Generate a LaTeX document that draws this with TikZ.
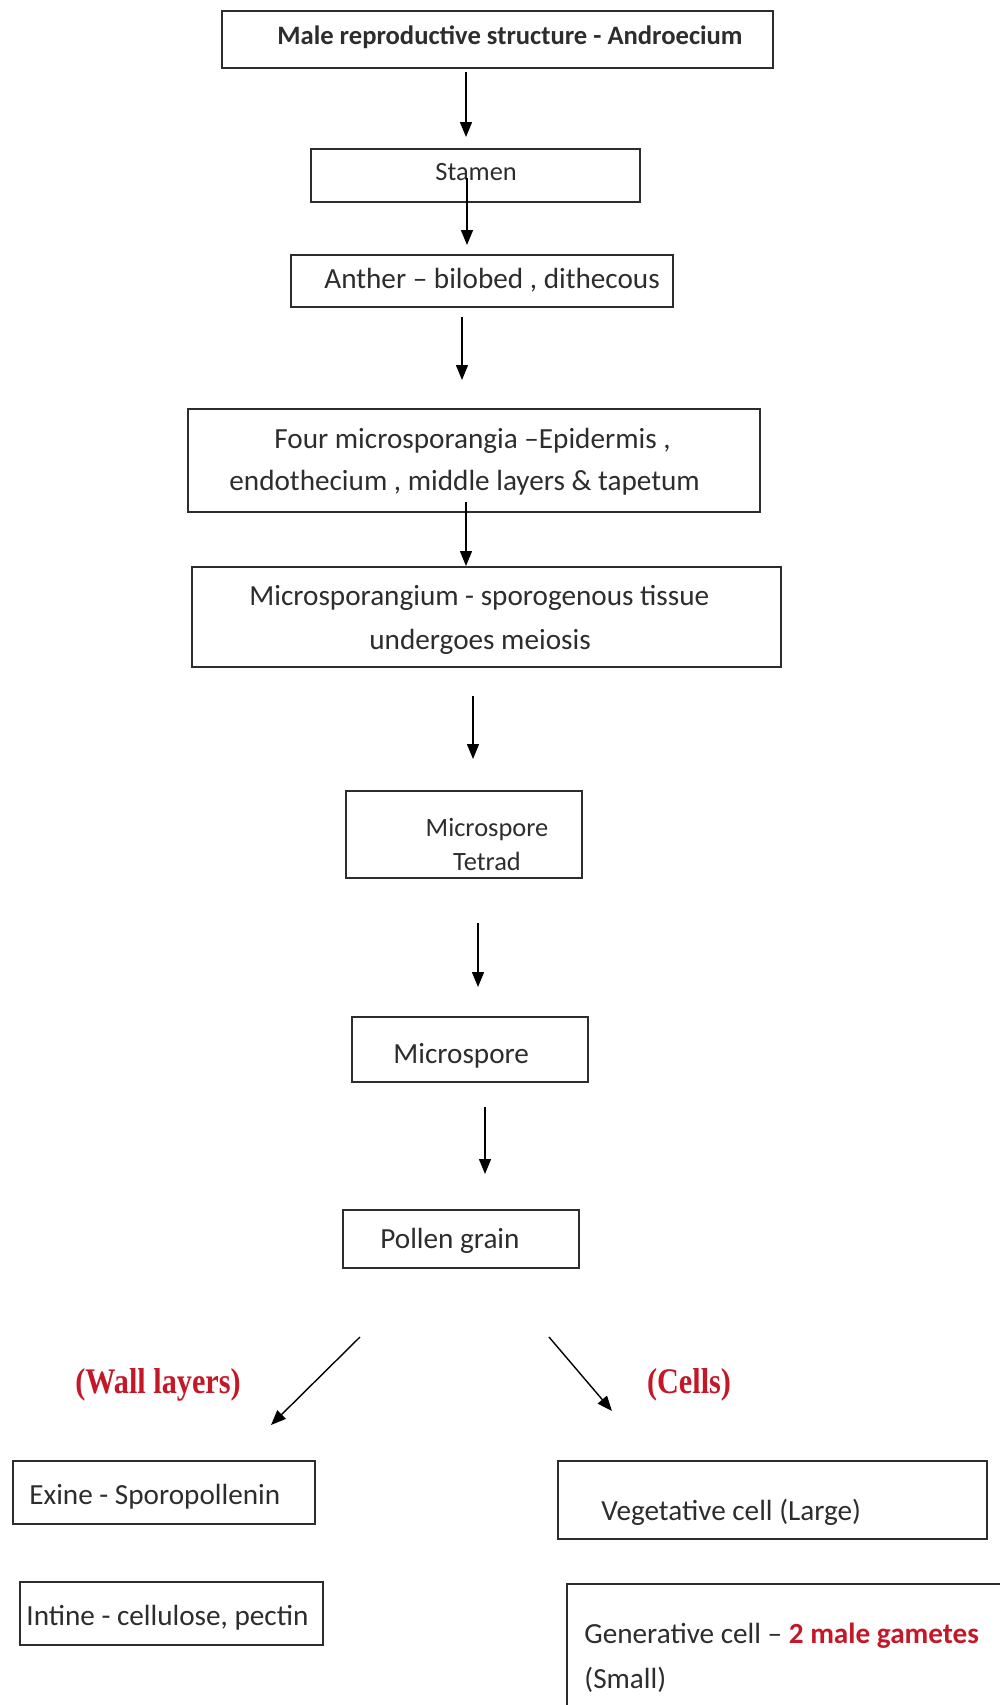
\documentclass[tikz,border=0pt]{standalone}
\usepackage{fontspec}
\setmainfont{Carlito}
\newfontfamily\serifbold{Liberation Serif}
\usetikzlibrary{arrows.meta}
\definecolor{inkgray}{RGB}{45,45,45}
\definecolor{darkred}{RGB}{196,24,40}
\tikzset{
  box/.style={draw=inkgray, line width=1pt, inner sep=0pt, anchor=north west},
  txt/.style={inner sep=0pt, anchor=west, text=inkgray, font=\fontsize{14.6}{17}\selectfont},
  smalltxt/.style={txt, font=\fontsize{13.2}{16}\selectfont},
  headtxt/.style={txt, font=\fontsize{13.3}{16}\selectfont\bfseries},
  tag/.style={inner sep=0pt, text=darkred, font=\serifbold\fontsize{18}{20}\selectfont\bfseries},
  arr/.style={draw=black, line width=0.7pt, -{Triangle[length=7.5pt,width=6pt]}}
}
\begin{document}
\begin{tikzpicture}[x=0.5pt, y=-0.5pt]
\useasboundingbox[fill=white] (0,0) rectangle (1000,1705);

% main chain of boxes (top-left corner, width, height)
\node[box, minimum width=551pt/2, minimum height=57pt/2] (andro) at (221,10) {};
\node[headtxt] at (277,37) {Male reproductive structure - Androecium};

\node[box, minimum width=329pt/2, minimum height=53pt/2] (stamen) at (310,148) {};
\node[smalltxt] at (435,172) {Stamen};

\node[box, minimum width=382pt/2, minimum height=52pt/2] (anther) at (290,254) {};
\node[txt] at (324,280) {Anther – bilobed , dithecous};

\node[box, minimum width=572pt/2, minimum height=103pt/2] (four) at (187,408) {};
\node[txt] at (274,441) {Four microsporangia –Epidermis ,};
\node[txt] at (229,483) {endothecium , middle layers \& tapetum};

\node[box, minimum width=589pt/2, minimum height=100pt/2] (sporang) at (191,566) {};
\node[txt] at (249,598) {Microsporangium - sporogenous tissue};
\node[txt] at (369,642) {undergoes meiosis};

\node[box, minimum width=236pt/2, minimum height=87pt/2] (tetrad) at (345,790) {};
\node[smalltxt, align=center, anchor=center] at (487,844) {Microspore\\[1pt]Tetrad};

\node[box, minimum width=236pt/2, minimum height=65pt/2] (spore) at (351,1016) {};
\node[txt] at (393,1056) {Microspore};

\node[box, minimum width=236pt/2, minimum height=58pt/2] (pollen) at (342,1209) {};
\node[txt] at (380,1241) {Pollen grain};

% wall layers
\node[box, minimum width=302pt/2, minimum height=63pt/2] (exine) at (12,1460) {};
\node[txt] at (29,1497) {Exine - Sporopollenin};
\node[box, minimum width=303pt/2, minimum height=63pt/2] (intine) at (19,1581) {};
\node[txt] at (26,1618) {Intine - cellulose, pectin};

% cells
\node[box, minimum width=429pt/2, minimum height=78pt/2] (veg) at (557,1460) {};
\node[txt] at (601,1512) {Vegetative cell (Large)};
\begin{scope}
  \clip (0,0) rectangle (1000,1705);
  \node[box, minimum width=460pt/2, minimum height=160pt/2] (gen) at (566,1583) {};
\end{scope}
\node[txt] at (584,1636) {Generative cell – \textcolor{darkred}{\bfseries 2 male gametes}};
\node[txt] at (584,1680) {(Small)};

% branch labels
\node[tag] at (158,1385) {\scalebox{0.84}[1]{(Wall layers)}};
\node[tag] at (689,1385) {\scalebox{0.84}[1]{(Cells)}};

% connector end points
\coordinate (a1s) at (466,72);   \coordinate (a1e) at (466,137);
\coordinate (a2s) at (467,178);  \coordinate (a2e) at (467,245);
\coordinate (a3s) at (462,317);  \coordinate (a3e) at (462,380);
\coordinate (a4s) at (466,502);  \coordinate (a4e) at (466,566);
\coordinate (a5s) at (473,696);  \coordinate (a5e) at (473,759);
\coordinate (a6s) at (478,923);  \coordinate (a6e) at (478,987);
\coordinate (a7s) at (485,1107); \coordinate (a7e) at (485,1174);
\coordinate (bls) at (360,1337); \coordinate (ble) at (271,1425);
\coordinate (brs) at (549,1337); \coordinate (bre) at (612,1411);

\foreach \s/\e in {a1s/a1e, a2s/a2e, a3s/a3e, a4s/a4e, a5s/a5e, a6s/a6e, a7s/a7e, bls/ble, brs/bre}
  \draw[arr] (\s) -- (\e);
\end{tikzpicture}
\end{document}
